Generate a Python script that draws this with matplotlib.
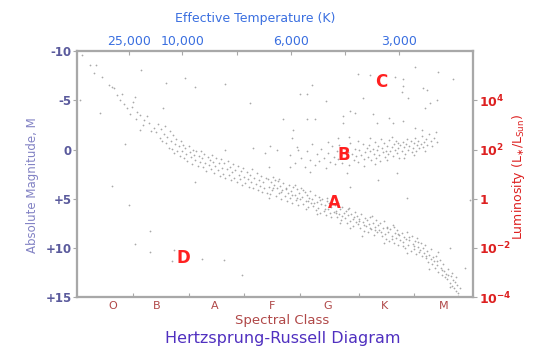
import matplotlib
matplotlib.use('Agg')
import matplotlib.pyplot as plt

# star positions: (spectral position, absolute magnitude)
ms_upper = [(0.09, -9.6), (0.23, -8.6), (0.34, -8.6), (0.30, -7.8), (0.45, -7.4), (0.58, -6.6),
            (0.63, -6.4), (0.66, -6.2), (0.72, -5.5), (0.77, -5.0), (0.85, -4.6), (0.90, -4.2),
            (0.99, -4.3), (1.07, -3.8), (1.13, -3.5), (1.20, -3.0), (1.29, -2.7), (1.38, -2.2),
            (1.13, -2.0), (1.05, -3.1), (1.25, -3.4), (0.95, -3.6), (1.32, -1.9), (1.18, -2.5),
            (1.00, -4.8), (0.80, -5.6)]

ms_mid = [(1.42, -1.8), (1.45, -2.6), (1.48, -1.2), (1.5, -2.1), (1.52, -0.9), (1.55, -1.6),
          (1.57, -2.4), (1.6, -0.7), (1.62, -1.3), (1.64, -0.2), (1.66, -1.9), (1.68, -0.9),
          (1.7, -0.1), (1.72, -1.5), (1.74, 0.4), (1.76, -0.6), (1.78, -1.1), (1.8, 0.2),
          (1.82, -0.4), (1.84, 0.7), (1.86, -0.9), (1.88, 0.1), (1.9, -0.5), (1.92, 0.9),
          (1.94, -0.2), (1.96, 0.5), (1.98, 1.2), (2.0, -0.4), (2.02, 0.3), (2.04, 0.8),
          (2.06, 1.5), (2.08, 0.0), (2.1, 0.6), (2.12, 1.1), (2.14, 0.2), (2.16, 1.7),
          (2.18, 0.7), (2.2, 1.3), (2.22, 0.2), (2.24, 0.9), (2.26, 1.8), (2.28, 0.5),
          (2.3, 1.4), (2.32, 2.2), (2.34, 0.8), (2.36, 1.6), (2.38, 1.1), (2.4, 2.0),
          (2.42, 0.6), (2.44, 1.3), (2.46, 2.4), (2.48, 1.7), (2.5, 0.9), (2.52, 2.1),
          (2.54, 1.4), (2.56, 2.7), (2.58, 1.0), (2.6, 1.9), (2.62, 2.5), (2.64, 1.4),
          (2.66, 2.9), (2.68, 2.0), (2.7, 1.2), (2.72, 2.6), (2.74, 1.8), (2.76, 3.1),
          (2.78, 2.3), (2.8, 1.5), (2.82, 2.9), (2.84, 2.1), (2.86, 3.3), (2.88, 1.7),
          (2.9, 2.6), (2.92, 3.0), (2.94, 2.2), (2.96, 3.6), (2.98, 1.9), (3.0, 2.8),
          (3.02, 3.4), (3.04, 2.3), (3.06, 3.0), (3.08, 3.8), (3.1, 2.6), (3.12, 3.3),
          (3.14, 2.0), (3.16, 3.9), (3.18, 2.9), (3.2, 3.5), (3.22, 2.4), (3.24, 4.1),
          (3.26, 3.1), (3.28, 3.7), (3.3, 2.7), (3.32, 4.3), (3.34, 3.3), (3.36, 3.9),
          (3.38, 2.9), (3.4, 4.4)]

ms_lower = [(3.42, 3.0), (3.44, 3.8), (3.46, 4.5), (3.48, 3.3), (3.5, 4.1), (3.52, 2.8),
            (3.54, 3.6), (3.56, 4.7), (3.58, 3.9), (3.6, 3.2), (3.62, 4.4), (3.64, 3.7),
            (3.66, 5.0), (3.68, 4.1), (3.7, 3.4), (3.72, 4.7), (3.74, 3.9), (3.76, 5.2),
            (3.78, 4.4), (3.8, 3.6), (3.45, 4.9), (3.55, 3.1), (3.65, 4.3), (3.75, 4.0),
            (3.52, 3.9), (3.63, 3.0),
            (3.82, 4.9), (3.84, 4.2), (3.86, 5.4), (3.88, 3.8), (3.9, 4.6), (3.92, 5.1),
            (3.94, 4.0), (3.96, 5.6), (3.98, 4.4), (4.0, 5.0), (4.02, 3.9), (4.04, 4.8),
            (4.06, 5.5), (4.08, 4.3), (4.1, 5.2), (4.12, 4.6), (4.14, 5.8), (4.16, 4.9),
            (4.18, 4.2), (4.2, 5.4), (3.85, 4.6), (3.95, 4.9), (4.05, 4.1), (4.15, 5.2),
            (3.91, 3.6), (4.11, 6.0),
            (4.22, 5.0), (4.24, 5.7), (4.26, 4.6), (4.28, 6.1), (4.3, 5.3), (4.32, 5.9),
            (4.34, 4.8), (4.36, 6.4), (4.38, 5.5), (4.4, 5.0), (4.42, 6.2), (4.44, 5.6),
            (4.46, 6.7), (4.48, 5.2), (4.5, 6.0), (4.52, 5.4), (4.54, 6.5), (4.56, 5.8),
            (4.58, 5.0), (4.6, 6.3), (4.25, 5.4), (4.35, 5.1), (4.45, 6.0), (4.55, 6.9),
            (4.31, 6.6), (4.49, 4.9),
            (4.62, 5.6), (4.64, 6.2), (4.66, 6.9), (4.68, 5.4), (4.7, 6.6), (4.72, 6.0),
            (4.74, 7.2), (4.76, 5.8), (4.78, 6.5), (4.8, 7.0), (4.82, 6.2), (4.84, 7.5),
            (4.86, 6.7), (4.88, 5.9), (4.9, 7.3), (4.92, 6.6), (4.94, 7.8), (4.96, 6.9),
            (4.98, 6.3), (5.0, 7.4), (4.65, 6.5), (4.75, 6.8), (4.85, 6.0), (4.95, 7.1),
            (4.71, 7.5), (4.89, 8.0),
            (5.02, 6.8), (5.04, 7.6), (5.06, 7.1), (5.08, 8.0), (5.1, 6.6), (5.12, 7.4),
            (5.14, 8.3), (5.16, 7.0), (5.18, 7.8), (5.2, 7.2), (5.22, 8.4), (5.24, 7.6),
            (5.26, 6.9), (5.28, 8.1), (5.3, 7.5), (5.32, 8.7), (5.34, 7.9), (5.36, 7.2),
            (5.38, 8.4), (5.4, 7.7), (5.05, 7.3), (5.15, 7.7), (5.25, 8.0), (5.35, 8.2),
            (5.11, 8.8), (5.29, 6.8),
            (5.42, 8.2), (5.44, 7.5), (5.46, 8.8), (5.48, 8.0), (5.5, 7.3), (5.52, 8.6),
            (5.54, 9.1), (5.56, 7.9), (5.58, 8.4), (5.6, 9.3), (5.62, 8.1), (5.64, 8.8),
            (5.66, 7.7), (5.68, 9.5), (5.7, 8.5), (5.72, 9.0), (5.74, 8.2), (5.76, 9.7),
            (5.78, 8.7), (5.8, 9.2), (5.45, 8.4), (5.55, 8.0), (5.65, 9.1), (5.75, 8.6),
            (5.51, 9.5), (5.69, 7.9),
            (5.82, 8.5), (5.84, 9.4), (5.86, 8.9), (5.88, 10.0), (5.9, 9.1), (5.92, 8.4),
            (5.94, 9.7), (5.96, 9.2), (5.98, 10.3), (6.0, 8.8), (6.02, 9.6), (6.04, 10.1),
            (6.06, 9.3), (6.08, 10.6), (6.1, 9.0), (6.12, 9.9), (6.14, 10.4), (6.16, 9.5),
            (6.18, 10.8), (6.2, 10.0), (5.85, 9.8), (5.95, 8.9), (6.05, 9.8), (6.15, 10.2),
            (5.91, 10.5), (6.11, 9.4),
            (6.22, 10.5), (6.24, 9.7), (6.26, 11.0), (6.28, 10.3), (6.3, 11.4), (6.32, 10.7),
            (6.34, 10.1), (6.36, 11.6), (6.38, 10.9), (6.4, 11.3), (6.42, 12.0), (6.44, 10.8),
            (6.46, 11.7), (6.48, 12.4), (6.5, 11.2), (6.52, 12.0), (6.54, 12.7), (6.56, 11.6),
            (6.58, 12.3), (6.6, 13.0), (6.25, 10.8), (6.35, 11.1), (6.45, 11.3), (6.55, 12.2),
            (6.31, 12.1), (6.47, 10.4),
            (6.62, 12.6), (6.64, 13.2), (6.66, 12.1), (6.68, 13.6), (6.7, 12.9), (6.72, 13.9),
            (6.74, 13.3), (6.76, 14.1), (6.78, 13.5), (6.8, 14.4), (6.82, 13.8), (6.84, 14.6),
            (6.86, 14.1), (6.65, 12.8), (6.73, 12.5), (6.79, 13.0), (6.69, 14.0), (6.83, 14.9)]

giants = [(3.82, 0.6), (3.9, 1.4), (3.95, -0.3), (4.02, 0.9), (4.08, 1.8), (4.12, 0.2),
          (4.18, 1.1), (4.22, -0.6), (4.26, 1.6), (4.3, 0.5), (4.34, 1.2), (4.38, -0.1),
          (4.42, 0.9), (4.46, 1.9), (4.5, 0.4), (4.54, 1.3), (4.58, -0.4), (4.6, 0.8),
          (4.63, 1.5), (4.66, 0.2), (4.68, 1.0), (4.7, -0.5), (4.73, 0.6), (4.76, 1.4),
          (4.79, -0.2), (4.82, 0.9), (4.85, 0.3), (4.88, 1.6), (4.9, -0.7), (4.93, 0.5),
          (4.96, 1.1), (4.98, -0.1), (5.01, 0.7), (5.04, 1.3), (5.06, 0.0), (5.09, 0.6),
          (5.12, -0.6), (5.14, 1.0), (5.17, 0.3), (5.2, -0.2), (4.87, -1.3), (5.03, -0.9),
          (5.15, 1.7),
          (5.22, 0.8), (5.24, -0.5), (5.26, 0.2), (5.28, 1.1), (5.3, -0.1), (5.32, 0.5),
          (5.34, -0.8), (5.36, 0.9), (5.38, 0.0), (5.4, -0.4), (5.42, 0.6), (5.44, 1.2),
          (5.46, -0.2), (5.48, 0.3), (5.5, -0.7), (5.52, 0.8), (5.54, 0.1), (5.56, -0.4),
          (5.58, 0.5), (5.6, -1.0), (5.62, 0.2), (5.64, -0.3), (5.66, 0.7), (5.68, -0.6),
          (5.7, 0.0), (5.72, -0.9), (5.74, 0.4), (5.76, -0.2), (5.78, 0.9), (5.8, -0.5),
          (5.25, -1.2), (5.35, 1.5), (5.45, -1.1), (5.55, 1.1), (5.65, -1.3), (5.75, -0.7),
          (5.82, 0.1), (5.84, -0.8), (5.86, -0.3), (5.88, 0.5), (5.9, -0.6), (5.92, -1.1),
          (5.94, 0.0), (5.96, -0.4), (5.98, -0.9), (6.0, 0.3), (6.02, -0.2), (6.04, -0.7),
          (6.06, -1.2), (6.08, 0.1), (6.1, -0.5), (6.12, -0.9), (6.14, -0.2), (6.16, -0.6),
          (6.18, -1.4), (6.2, -0.3), (6.22, -0.8), (6.25, -1.1), (6.28, -0.5), (6.31, -1.6),
          (6.34, -0.9), (6.37, -0.4), (6.4, -1.2), (6.43, -1.8), (6.46, -0.8), (5.87, 0.9),
          (6.05, 0.6), (6.24, 0.2)]

scattered = [(1.15, -8.1), (1.6, -6.8), (1.94, -7.3), (2.11, -6.4), (2.65, -6.7), (3.1, -4.7),
             (1.04, -5.3), (1.54, -4.2), (0.86, -0.6), (0.05, -5.0), (0.41, -3.7),
             (4.21, -6.6), (4.0, -5.6), (4.12, -5.6), (4.46, -4.9), (3.69, -3.1), (4.12, -3.1),
             (4.27, -3.1), (3.87, -2.0), (3.85, -1.2), (3.15, -0.2), (3.46, -0.4), (2.65, 0.0),
             (3.58, 0.06), (3.37, 0.37), (3.96, 0.06), (4.5, -0.75), (4.77, -2.7), (4.68, -1.2),
             (3.44, 1.8), (3.82, 1.8), (4.18, 2.3),
             (5.04, -7.7), (5.25, -7.6), (5.7, -7.4), (5.84, -7.2), (5.84, -6.5), (6.47, -7.9),
             (6.74, -7.2), (6.2, -6.3), (6.27, -6.0), (5.82, -5.8), (5.93, -5.2), (6.33, -4.7),
             (6.45, -5.0), (5.13, -5.2), (4.89, -3.9), (4.98, -3.7), (5.3, -3.6), (5.66, -2.7),
             (5.84, -2.9), (6.06, -2.2), (6.18, -2.0), (4.77, -3.4), (5.38, -2.7), (5.6, -3.2),
             (6.06, -8.4), (6.24, -4.2),
             (4.84, 2.4), (5.4, 3.1), (5.73, 2.4), (5.91, 4.9), (4.89, 3.8), (7.04, 5.1),
             (6.95, 12.0), (6.68, 10.0)]

white_dwarfs = [(0.63, 3.7), (2.11, 3.3), (0.93, 5.6), (1.31, 8.3), (1.04, 9.6), (1.31, 10.4),
                (1.74, 10.2), (1.7, 11.3), (2.24, 11.1), (2.63, 11.2), (2.96, 12.8)]

spectral_classes = ['O', 'B', 'A', 'F', 'G', 'K', 'M']
class_pos = [0.64, 1.43, 2.46, 3.5, 4.5, 5.52, 6.57]
class_ticks = [1, 2, 3, 4, 5.05, 6.05]

temp_ticks = [0.93, 1.89, 2.86, 3.84, 4.8, 5.77]
temp_labels = ['25,000', '10,000', '', '6,000', '', '3,000']

mag_ticks = [-10, -5, 0, 5, 10, 15]
mag_labels = ['-10', '-5', '0', '+5', '+10', '+15']
lum_ticks = [-5, 0, 5, 10, 15]
lum_labels = [r'$\mathbf{10^{4}}$', r'$\mathbf{10^{2}}$', r'$\mathbf{1}$',
              r'$\mathbf{10^{-2}}$', r'$\mathbf{10^{-4}}$']

regions = [('A', 4.62, 5.45), ('B', 4.78, 0.57), ('C', 5.45, -6.85), ('D', 1.9, 11.0)]

fig = plt.figure(figsize=(5.43, 3.5), dpi=100)
ax = fig.add_axes([0.142, 0.151, 0.729, 0.703])

for group in [ms_upper, ms_mid, ms_lower, giants, scattered, white_dwarfs]:
    xs = [p[0] for p in group]
    ms = [p[1] for p in group]
    ax.scatter(xs, ms, s=1.6, color='#9a9a9a', linewidths=0, alpha=0.85)

for letter, x, m in regions:
    ax.text(x, m, letter, color='#ff2020', fontsize=12, fontweight='bold',
            ha='center', va='center')

ax.set_xlim(0, 7.1)
ax.set_ylim(15, -10)

spine_col = '#a8a8a8'
for s in ax.spines.values():
    s.set_color(spine_col)
    s.set_linewidth(1.5)

ax.set_yticks(mag_ticks)
ax.set_yticklabels(mag_labels, fontsize=8.5, fontweight='bold', color='#5a5a9c')
ax.tick_params(axis='y', direction='out', length=3, color=spine_col, pad=1)

ax.set_xticks(class_ticks)
ax.set_xticklabels([])
ax.set_xticks(class_pos, minor=True)
ax.set_xticklabels(spectral_classes, minor=True, fontsize=8, color='#b04848')
ax.tick_params(axis='x', which='major', direction='in', length=3, color=spine_col)
ax.tick_params(axis='x', which='minor', length=0, pad=3)

top = ax.twiny()
top.set_xlim(ax.get_xlim())
top.set_xticks(temp_ticks)
top.set_xticklabels(temp_labels, fontsize=9, color='#3a6fe0')
top.tick_params(axis='x', direction='in', length=3, color=spine_col, pad=2)

right = ax.twinx()
right.set_ylim(ax.get_ylim())
right.set_yticks(lum_ticks)
right.set_yticklabels(lum_labels, fontsize=9, color='#dd2020')
right.tick_params(axis='y', direction='out', length=3, color=spine_col, pad=1)

for a in (top, right):
    for s in a.spines.values():
        s.set_color(spine_col)
        s.set_linewidth(1.5)

fig.text(0.059, 0.47, 'Absolute Magnitude, M', rotation=90, color='#8282c4',
         fontsize=8.5, ha='center', va='center')
fig.text(0.955, 0.495, r'Luminosity (L$_{\ast}$/L$_{\rm Sun}$)', rotation=90,
         color='#dd2020', fontsize=9, ha='center', va='center')
fig.text(0.47, 0.948, 'Effective Temperature (K)', color='#3a6fe0', fontsize=9,
         ha='center', va='center')
fig.text(0.52, 0.083, 'Spectral Class', color='#b04848', fontsize=9.5,
         ha='center', va='center')
fig.text(0.52, 0.032, 'Hertzsprung-Russell Diagram', color='#5030c0', fontsize=11.5,
         ha='center', va='center')

fig.savefig('out.png', dpi=100)
